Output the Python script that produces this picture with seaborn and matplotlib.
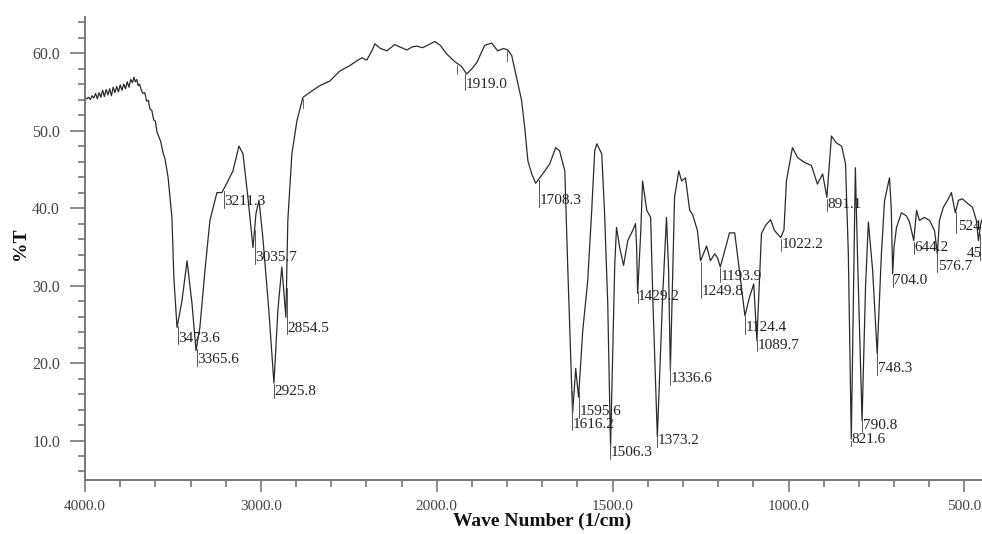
import numpy as np
import matplotlib
matplotlib.use('Agg')
import matplotlib.pyplot as plt
import seaborn as sns
import pandas as pd

# ---------------- data ----------------
wavenumber = [4000, 3990, 3980, 3970, 3960, 3950, 3940, 3930, 3920, 3910, 3900, 3890, 3880, 3870,
              3860, 3850, 3840, 3830, 3820, 3810, 3800, 3790, 3780, 3770, 3760, 3750, 3740, 3730,
              3722, 3714, 3706, 3698, 3690, 3680, 3670, 3660, 3650, 3640, 3631, 3620, 3610, 3600,
              3591, 3580, 3570, 3557, 3545, 3528, 3506, 3495,
              3477, 3449, 3420, 3392, 3369, 3347, 3318, 3290, 3250, 3222, 3187, 3159, 3125, 3102,
              3074, 3045, 3028, 3011, 2989, 2966, 2955, 2926, 2903, 2881, 2858, 2847, 2824, 2795,
              2761, 2705, 2665, 2608, 2551, 2494, 2455, 2426, 2398, 2369, 2352, 2320, 2284, 2239,
              2200, 2170, 2140, 2114, 2080, 2045, 2011, 1990, 1972, 1949, 1930, 1915, 1900, 1886,
              1864, 1844, 1827, 1810, 1798, 1787, 1773, 1759, 1750, 1741, 1730, 1719, 1699, 1679,
              1662, 1651, 1636, 1628, 1614, 1605, 1597, 1585, 1571, 1560, 1551, 1545, 1531, 1523,
              1514, 1506, 1494, 1489, 1480, 1469, 1457, 1443, 1435, 1432, 1429, 1420, 1415, 1403,
              1392, 1386, 1373, 1358, 1347, 1341, 1336, 1324, 1312, 1304, 1293, 1281, 1273, 1259,
              1250, 1233, 1222, 1210, 1202, 1194, 1176, 1168, 1153, 1142, 1124, 1111, 1099, 1090,
              1077, 1065, 1051, 1040, 1022, 1013, 1006, 989, 974, 955, 935, 918, 903, 891, 878,
              864, 849, 838, 830, 821.6, 810, 804, 791, 781, 773, 761, 748, 736, 727, 713, 708,
              704, 700, 693, 679, 665, 656, 644, 636, 628, 614, 599, 585, 577, 571, 560, 548, 537,
              526, 517, 506, 491, 477, 466, 460, 454, 450]
transmittance = [54.2, 54.1, 54.3, 54.0, 54.5, 54.2, 54.8, 54.1, 54.9, 54.3, 55.2, 54.4, 55.3, 54.6,
                 55.4, 54.5, 55.6, 54.9, 55.7, 55.0, 55.9, 55.2, 56.0, 55.4, 56.3, 55.6, 56.6, 56.2,
                 56.9, 56.3, 56.6, 55.8, 56.0, 55.2, 54.8, 54.9, 53.8, 53.9, 52.8, 52.6, 51.4, 51.2,
                 49.8, 49.2, 48.6, 47.2, 46.3, 44.0, 38.8, 31.0,
                 24.6, 28.0, 33.2, 27.7, 21.6, 24.6, 32.0, 38.4, 42.0, 42.0, 43.5, 44.8, 48.0, 47.0,
                 41.4, 34.9, 39.3, 41.0, 36.2, 29.8, 26.8, 17.4, 27.0, 32.4, 25.9, 38.4, 47.0, 51.3,
                 54.3, 55.2, 55.8, 56.4, 57.7, 58.4, 59.0, 59.4, 59.1, 60.3, 61.2, 60.6, 60.3, 61.1,
                 60.7, 60.4, 60.8, 60.9, 60.7, 61.1, 61.5, 61.0, 59.9, 58.9, 58.3, 57.3, 58.0, 58.8,
                 61.0, 61.3, 60.3, 60.6, 60.4, 59.7, 56.8, 53.9, 50.4, 46.1, 44.4, 43.2, 44.4, 45.7,
                 47.8, 47.4, 44.8, 32.8, 13.5, 19.3, 15.6, 24.2, 30.6, 39.3, 47.4, 48.3, 47.0, 39.3,
                 27.7, 9.2, 32.8, 37.5, 34.9, 32.6, 35.8, 37.1, 38.0, 35.0, 29.0, 37.1, 43.5, 39.7,
                 38.8, 28.5, 10.5, 28.5, 38.8, 32.0, 19.0, 41.4, 44.8, 43.5, 43.9, 39.7, 39.2, 37.1,
                 33.2, 35.1, 33.2, 34.1, 33.6, 32.4, 35.4, 36.8, 36.8, 32.8, 26.1, 28.5, 30.2, 22.9,
                 36.7, 37.8, 38.5, 37.1, 36.2, 37.2, 43.5, 47.8, 46.5, 45.9, 45.5, 43.1, 44.4, 41.4, 49.3,
                 48.4, 48.0, 45.7, 34.1, 10.2, 45.2, 34.0, 12.6, 30.0, 38.2, 32.0, 21.2, 34.1, 41.0, 43.9, 40.0,
                 31.5, 35.0, 37.5, 39.4, 39.0, 38.2, 35.8, 39.7, 38.4, 38.8, 38.4, 37.1, 34.1, 38.4, 40.1, 41.0, 42.0,
                 39.4, 41.0, 41.2, 40.6, 40.1, 38.4, 35.8, 37.9, 38.5]

peak_wn = [3473.6, 3365.6, 3211.3, 3035.7, 2925.8, 2854.5, 1919.0, 1708.3,
           1616.2, 1595.6, 1506.3, 1429.2, 1373.2, 1336.6, 1249.8, 1193.9,
           1124.4, 1089.7, 1022.2, 891.1, 821.6, 790.8, 748.3, 704.0,
           644.2, 576.7, 524.0, 457.0]
peak_labels = ["3473.6", "3365.6", "3211.3", "3035.7", "2925.8", "2854.5", "1919.0", "1708.3",
               "1616.2", "1595.6", "1506.3", "1429.2", "1373.2", "1336.6", "1249.8", "1193.9",
               "1124.4", "1089.7", "1022.2", "891.1", "821.6", "790.8", "748.3", "704.0",
               "644.2", "576.7", "524", "45"]
label_text_y = [23.2, 20.4, 40.8, 33.6, 16.3, 24.5, 56.0, 41.0, 12.1, 13.7, 8.4, 28.6, 10.0, 18.0,
                29.2, 31.2, 24.6, 22.3, 35.3, 40.4, 10.1, 11.9, 19.3, 30.6, 34.9, 32.5, 37.6, 34.1]
label_text_wn = [3473.6, 3365.6, 3211.3, 3035.7, 2925.8, 2854.5, 1919.0, 1708.3,
                 1616.2, 1595.6, 1506.3, 1429.2, 1373.2, 1336.6, 1249.8, 1193.9,
                 1124.4, 1089.7, 1022.2, 891.1, 821.6, 790.8, 748.3, 704.0,
                 644.2, 576.7, 521.0, 494.0]
marker_wn = [2761, 1943, 1800]

x_major = [4000, 3000, 2000, 1500, 1000, 500]
y_major = [10, 20, 30, 40, 50, 60]
x_label = "Wave Number (1/cm)"
y_label = "%T"

# ---------------- figure ----------------
sns.set_theme(style="ticks")
plt.rcParams['font.family'] = ['Liberation Serif', 'DejaVu Serif']

fig = plt.figure(figsize=(9.82, 5.34), dpi=100)
ax = fig.add_axes([0.0866, 0.1011, 0.9134, 0.8676])


def fwd(x):
    x = np.asarray(x, dtype=float)
    return np.where(x > 2000, 2000 + (x - 2000) / 2.0, x)


def inv(t):
    t = np.asarray(t, dtype=float)
    return np.where(t > 2000, 2000 + (t - 2000) * 2.0, t)


ax.set_xscale('function', functions=(fwd, inv))

df = pd.DataFrame({"wn": wavenumber, "T": transmittance})
sns.lineplot(data=df, x="wn", y="T", sort=False, estimator=None,
             color="#2b2b2b", linewidth=0.9, ax=ax)

ax.set_xlim(4000, 450)
ax.set_ylim(4.9, 64.7)

# peak labels
wn_sorted = np.array(wavenumber)[::-1]
T_sorted = np.array(transmittance)[::-1]
for w, lab, tx, ty in zip(peak_wn, peak_labels, label_text_wn, label_text_y):
    tmin = np.interp(w, wn_sorted, T_sorted)
    ax.plot([w, w], [tmin - 0.2, ty - 0.8], color="#555555", lw=0.7, clip_on=True)
    ax.annotate(lab, xy=(tx, ty), xytext=(0.4, 0), textcoords="offset points",
                ha="left", va="center", fontsize=11, color="#222222",
                annotation_clip=False)

for w in marker_wn:
    tv = np.interp(w, wn_sorted, T_sorted)
    ax.plot([w, w], [tv - 0.2, tv - 1.4], color="#666666", lw=0.7)

# ticks
ax.set_xticks(x_major)
ax.set_xticklabels([f"{v:.1f}" for v in x_major])
minor_x = [v for v in list(range(3800, 2000, -200)) + list(range(1900, 440, -100)) if v not in x_major]
ax.set_xticks(minor_x, minor=True)
ax.set_yticks(y_major)
ax.set_yticklabels([f"{v:.1f}" for v in y_major])
ax.set_yticks([v for v in range(6, 65, 2) if v not in y_major], minor=True)

ax.tick_params(axis='x', which='major', length=8.5, width=1.2, pad=6, labelsize=11,
               colors="#777777", labelcolor="#444444")
ax.tick_params(axis='x', which='minor', length=5, width=1.2, colors="#777777")
ax.tick_params(axis='y', which='major', length=11, width=1.2, pad=7, labelsize=11.5,
               colors="#777777", labelcolor="#444444")
ax.tick_params(axis='y', which='minor', length=5, width=1.2, colors="#777777")

for s in ["top", "right"]:
    ax.spines[s].set_visible(False)
for s in ["left", "bottom"]:
    ax.spines[s].set_color("#777777")
    ax.spines[s].set_linewidth(1.4)

ax.set_xlabel(x_label, fontsize=14, fontweight="bold", color="#111111")
ax.set_ylabel(y_label, fontsize=14, fontweight="bold", color="#111111")
ax.xaxis.set_label_coords(0.509, -0.071)
ax.xaxis.label.set_va("top")
ax.yaxis.set_label_coords(-0.063, 0.51)

fig.savefig("out.png", dpi=100)
